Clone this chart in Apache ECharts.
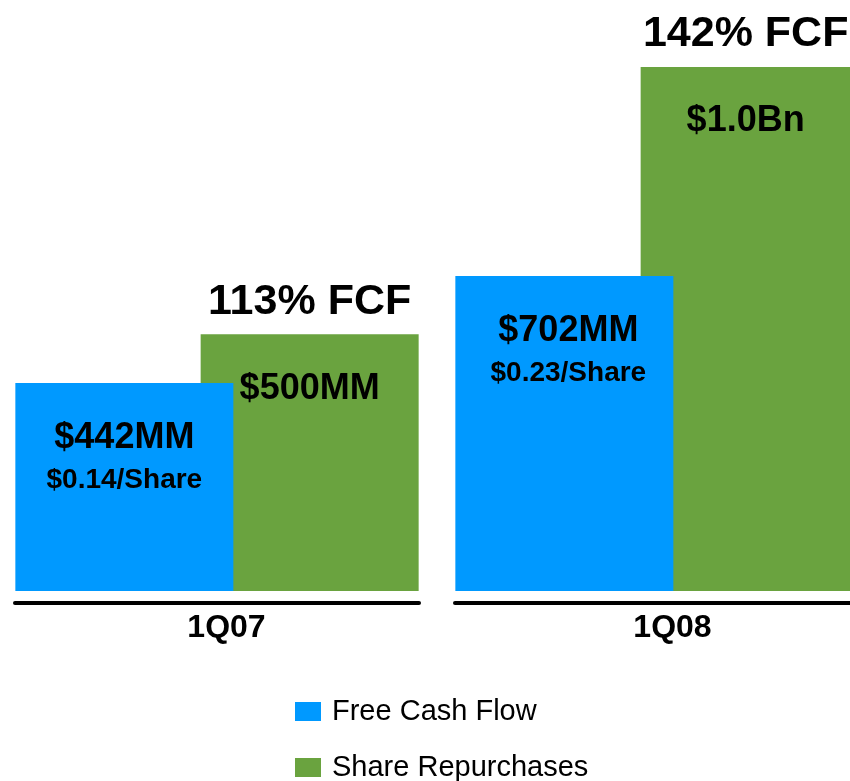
<!DOCTYPE html>
<html>
<head>
<meta charset="utf-8">
<style>
  html, body { margin: 0; padding: 0; background: #ffffff; overflow: hidden; width: 850px; height: 781px; }
  #chart { width: 860px; height: 800px; }
</style>
<script src="https://cdn.jsdelivr.net/npm/echarts@6/dist/echarts.min.js"></script>
</head>
<body>
<div id="chart"></div>
<script>
// ---- data (bar heights as drawn in the picture, labels as printed) ----
const categories = ['1Q07', '1Q08'];
const fcfHeights = [397, 601];
const buybackHeights = [490, 1000];
const fcfLabels = ['$442MM', '$702MM'];
const perShareLabels = ['$0.14/Share', '$0.23/Share'];
const buybackLabels = ['$500MM', '$1.0Bn'];
const pctLabels = ['113% FCF', '142% FCF'];
const seriesNames = ['Free Cash Flow', 'Share Repurchases'];

const BLUE = '#0099FF';
const GREEN = '#6AA33F';
const FONT = '"Liberation Sans", Arial, sans-serif';

// layout tweaks per group (styling only)
const axisLabelPad = [19, 31];
const fcfLabelDx = [0, 4];
const buyLabelDx = [0, -4];

const chart = echarts.init(document.getElementById('chart'), null, { renderer: 'canvas' });

const grids = [
  { left: 15, width: 404, top: 67, height: 524 },
  { left: 455, width: 404, top: 67, height: 524 }
];

const xAxes = categories.map((c, i) => ({
  type: 'category',
  gridIndex: i,
  data: [c],
  offset: 12,
  axisLine: { show: true, onZero: false, lineStyle: { color: '#000', width: 4 } },
  axisTick: { show: false },
  axisLabel: {
    color: '#000', fontFamily: FONT, fontWeight: 'bold', fontSize: 32,
    margin: 9, padding: [0, 0, 0, axisLabelPad[i]]
  }
}));

const yAxes = categories.map((c, i) => ({
  type: 'value', gridIndex: i, min: 0, max: 1000, show: false,
  splitLine: { show: false }
}));

const series = [];
categories.forEach((c, i) => {
  series.push({
    name: seriesNames[0],
    type: 'bar',
    xAxisIndex: i, yAxisIndex: i,
    data: [fcfHeights[i]],
    barWidth: 218,
    barGap: '-15%',
    z: 3,
    itemStyle: { color: BLUE },
    label: {
      show: true,
      position: 'insideTop',
      distance: 34,
      offset: [fcfLabelDx[i], 0],
      formatter: () => '{a|' + fcfLabels[i] + '}\n{b|' + perShareLabels[i] + '}',
      rich: {
        a: { fontFamily: FONT, fontWeight: 'bold', fontSize: 36, lineHeight: 42, color: '#000' },
        b: { fontFamily: FONT, fontWeight: 'bold', fontSize: 28, lineHeight: 42, color: '#000' }
      }
    }
  });
  series.push({
    name: seriesNames[1],
    type: 'bar',
    xAxisIndex: i, yAxisIndex: i,
    data: [buybackHeights[i]],
    barWidth: 218,
    barGap: '-15%',
    z: 2,
    itemStyle: { color: GREEN },
    label: {
      show: true,
      position: 'insideTop',
      distance: 0,
      offset: [buyLabelDx[i], -76],
      formatter: () => '{t|' + pctLabels[i] + '}\n{v|' + buybackLabels[i] + '}',
      rich: {
        t: { fontFamily: FONT, fontWeight: 'bold', fontSize: 43, lineHeight: 87, color: '#000' },
        v: { fontFamily: FONT, fontWeight: 'bold', fontSize: 36, lineHeight: 87, color: '#000' }
      }
    }
  });
});

chart.setOption({
  animation: false,
  backgroundColor: '#ffffff',
  grid: grids,
  xAxis: xAxes,
  yAxis: yAxes,
  legend: {
    data: seriesNames,
    orient: 'vertical',
    left: 295,
    top: 697,
    padding: 0,
    itemGap: 27,
    itemWidth: 26,
    itemHeight: 19,
    icon: 'rect',
    textStyle: { fontFamily: FONT, fontSize: 29, lineHeight: 26, color: '#000', padding: [0, 0, 0, 6] }
  },
  series: series
});
</script>
</body>
</html>
